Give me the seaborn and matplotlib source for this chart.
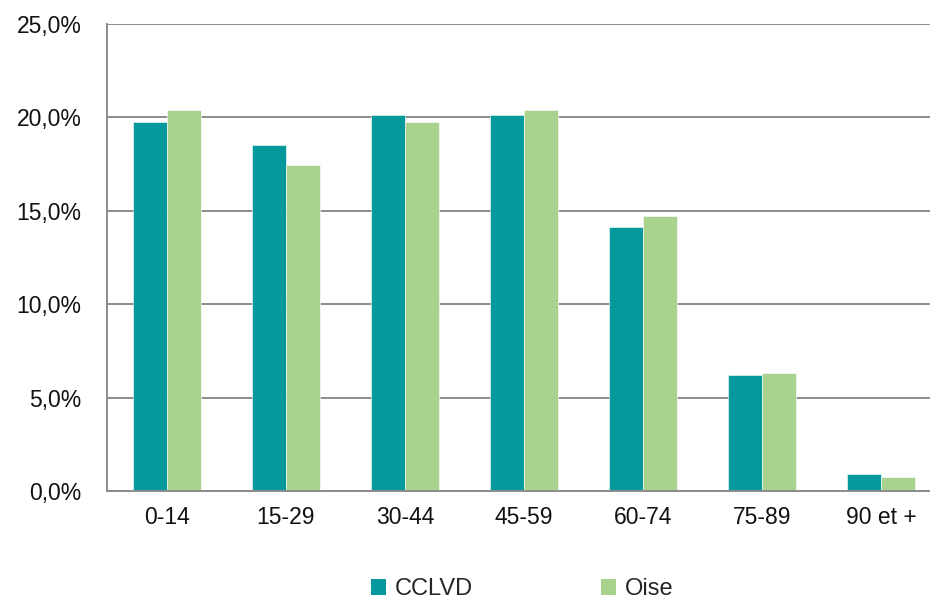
import matplotlib
matplotlib.use("Agg")
import matplotlib.pyplot as plt
from matplotlib.ticker import FuncFormatter, FixedLocator
from matplotlib.patches import Patch
import seaborn as sns
import pandas as pd

# Age-group shares of the population (%)
age_groups = ["0-14", "15-29", "30-44", "45-59", "60-74", "75-89", "90 et +"]
cclvd = [19.75, 18.5, 20.12, 20.12, 14.14, 6.2, 0.89]
oise = [20.37, 17.46, 19.75, 20.41, 14.71, 6.34, 0.77]
series_names = ["CCLVD", "Oise"]
palette = {"CCLVD": "#049a9d", "Oise": "#a8d28e"}

df = pd.DataFrame({
    "age": age_groups * 2,
    "share": cclvd + oise,
    "zone": [series_names[0]] * len(age_groups) + [series_names[1]] * len(age_groups),
})

sns.set_theme(style="white")
plt.rcParams["font.family"] = ["Liberation Sans", "DejaVu Sans"]

fig = plt.figure(figsize=(9.3, 6.04), dpi=100)
ax = fig.add_axes([107 / 930, 1 - 491 / 604, 834 / 930, 467 / 604])

sns.barplot(data=df, x="age", y="share", hue="zone", order=age_groups,
            hue_order=series_names, palette=palette, width=0.57, gap=0,
            saturation=1, edgecolor="white", linewidth=0.4, ax=ax, legend=False)

ax.set_xlim(-0.5, len(age_groups) - 0.5)
ax.set_ylim(0, 25)
ax.set_yticks([0, 5, 10, 15, 20, 25])
ax.yaxis.set_major_formatter(FuncFormatter(lambda v, _: f"{v:.1f}".replace(".", ",") + "%"))
ax.yaxis.grid(True, color="#8c8c8c", linewidth=1.4)
ax.set_axisbelow(True)
ax.set_xlabel("")
ax.set_ylabel("")

# category separators as tick marks on the x axis
ax.xaxis.set_minor_locator(FixedLocator([i - 0.5 for i in range(len(age_groups) + 1)]))
ax.tick_params(axis="x", which="major", length=0, pad=11, labelsize=16.5, colors="#111111")
ax.tick_params(axis="x", which="minor", length=6, width=1.4, color="#8c8c8c", direction="out")
ax.tick_params(axis="y", length=7.5, width=1.4, color="#8c8c8c", direction="out",
               pad=11, labelsize=16.5, labelcolor="#111111")

for side in ["top", "right"]:
    ax.spines[side].set_visible(False)
for side in ["left", "bottom"]:
    ax.spines[side].set_color("#8c8c8c")
    ax.spines[side].set_linewidth(1.4)

handles = [Patch(facecolor=palette[n], edgecolor="none", label=n) for n in series_names]
fig.legend(handles=handles, loc="center", bbox_to_anchor=(522 / 930, 1 - 589 / 604),
           ncol=2, frameon=False, fontsize=17, handlelength=0.64, handleheight=0.64,
           handletextpad=0.38, columnspacing=5.4, borderpad=0, borderaxespad=0)

fig.savefig("out.png", dpi=100)
